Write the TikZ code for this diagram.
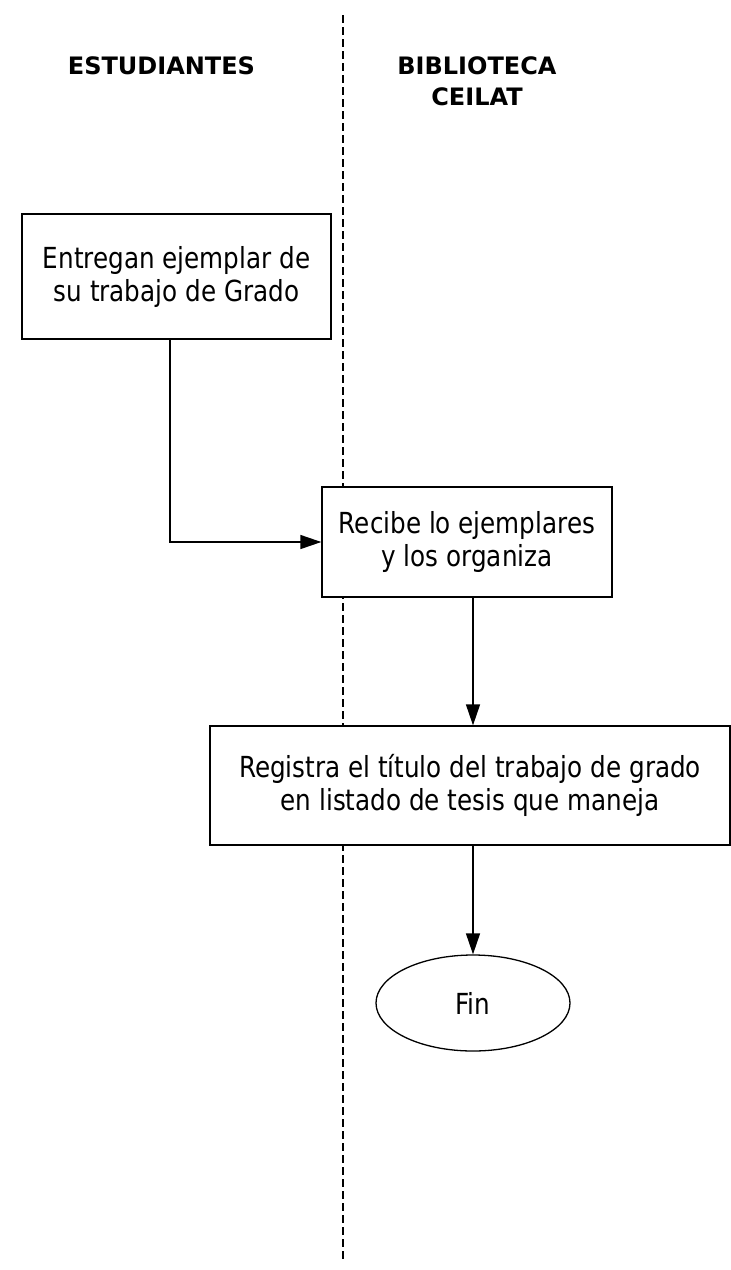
\documentclass[tikz,border=0pt]{standalone}
\usepackage{fontspec}
\setmainfont{DejaVu Sans}
\newfontfamily\boxfont[FakeStretch=0.85]{DejaVu Sans}
\usetikzlibrary{arrows.meta,shapes.geometric,calc}
\begin{document}
\begin{tikzpicture}[x=1pt,y=-1pt,
  box/.style={draw,fill=white,line width=1.3pt,rectangle,inner sep=0pt,align=center,font=\boxfont\fontsize{29}{33}\selectfont},
  term/.style={draw,fill=white,line width=1.3pt,ellipse,inner sep=0pt,font=\boxfont\fontsize{29}{33}\selectfont},
  head/.style={font=\bfseries\fontsize{24}{31}\selectfont,align=center},
  conn/.style={line width=1.3pt,-{Triangle[length=21pt,width=14pt]}}]
\path[use as bounding box] (0,0) rectangle (731,1270);
\coordinate (lt) at (343,15);
\coordinate (lb) at (343,1262);
\draw[line width=1.2pt,dash pattern=on 8pt off 4pt] (lt) -- (lb);
\node[head] (h1) at (161.5,66) {ESTUDIANTES};
\node[head] (h2) at (477,81.5) {BIBLIOTECA\\CEILAT};
\node[box,minimum width=309pt,minimum height=125pt] (b1) at (176.5,276.5) {Entregan ejemplar de\\su trabajo de Grado};
\node[box,minimum width=290pt,minimum height=110pt] (b2) at (467,542) {Recibe lo ejemplares\\y los organiza};
\node[box,minimum width=520pt,minimum height=119pt] (b3) at (470,785.5) {Registra el título del trabajo de grado\\en listado de tesis que maneja};
\node[term,minimum width=194pt,minimum height=96pt] (fin) at (473,1003) {Fin};
\draw[conn] ([xshift=-6.5pt]b1.south) |- (b2.west);
\draw[conn] ([xshift=6pt]b2.south) -- ([xshift=6pt]b2.south |- b3.north);
\draw[conn] ([xshift=3pt]b3.south) -- (fin.north);
\end{tikzpicture}
\end{document}
